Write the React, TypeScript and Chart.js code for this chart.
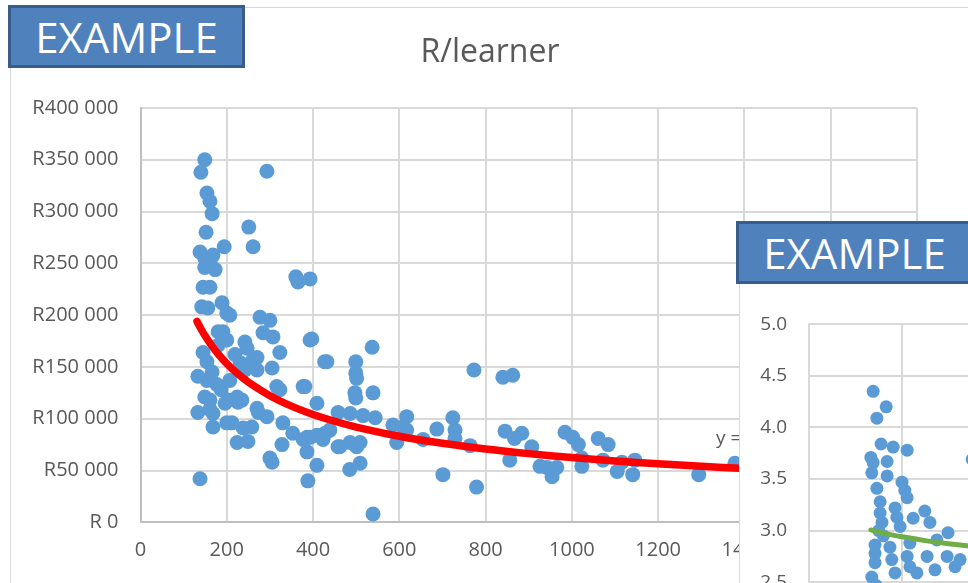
import React, { useEffect, useRef } from "react";
import { Chart, registerables } from "chart.js";

Chart.register(...registerables);

// ---------- Main chart data (learners vs rand per learner) ----------
const LEARNERS = [
  149, 140, 293, 154, 161, 166, 152, 251, 261, 194, 138, 149, 161, 168, 173, 149, 145, 161, 360, 393,
  365, 142, 156, 189, 200, 207, 277, 300, 284, 307, 397, 242, 247, 200, 191, 323, 270, 145, 154, 427,
  305, 231, 242, 133, 154, 177, 166, 207, 316, 323, 377, 161, 149, 203, 224, 235, 196, 270, 293, 133,
  168, 409, 212, 238, 258, 168, 330, 353, 386, 409, 428, 224, 249, 328, 386, 300, 305, 409, 138, 388,
  485, 509, 539, 462, 501, 594, 701, 537, 432, 499, 499, 501, 539, 497, 499, 393, 381, 458, 486, 516,
  544, 439, 423, 458, 486, 509, 377, 393, 617, 585, 608, 617, 655, 773, 840, 863, 724, 729, 729, 687,
  764, 845, 867, 884, 907, 856, 779, 984, 1002, 1015, 942, 954, 965, 926, 1023, 1023, 1061, 1084, 1072, 1105,
  1116, 1141, 1146, 1294, 1378, 180, 261, 270, 273, 161, 187, 219, 180, 200, 226,
];
const R_PER_LEARNER = [
  350000, 338000, 339000, 318000, 310000, 298000, 280000, 285000, 266000, 266000, 261000, 255000, 251000, 258000, 244000, 246000, 227000, 227000, 237000, 235000,
  232000, 208000, 207000, 212000, 202000, 200000, 198000, 195000, 183000, 179000, 177000, 174000, 168000, 176000, 184000, 164000, 159000, 164000, 155000, 155000,
  149000, 154000, 147000, 141000, 137000, 133000, 145000, 137000, 131000, 128000, 131000, 118000, 121000, 118000, 121000, 118000, 115000, 110000, 102000, 106000,
  105000, 115000, 96000, 91000, 92000, 92000, 96000, 86000, 82000, 84000, 86000, 77000, 78000, 75000, 68000, 62000, 58000, 55000, 42000, 40000,
  51000, 57000, 8000, 73000, 73000, 77000, 46000, 169000, 155000, 155000, 144000, 139000, 125000, 125000, 120000, 176000, 131000, 106000, 105000, 103000,
  101000, 89000, 80000, 73000, 77000, 77000, 80000, 82000, 102000, 94000, 92000, 89000, 80000, 147000, 140000, 142000, 101000, 89000, 81000, 90000,
  74000, 88000, 81000, 86000, 73000, 60000, 34000, 87000, 82000, 75000, 53000, 44000, 53000, 54000, 54000, 62000, 81000, 75000, 60000, 49000,
  58000, 46000, 60000, 46000, 57000, 184000, 157000, 147000, 106000, 109000, 128000, 162000, 171000, 96000, 116000,
];
// power trendline y = A * x^B
const TREND_A = 2931000;
const TREND_B = -0.557;
const TREND_X = [131, 140, 150, 165, 180, 200, 225, 250, 300, 350, 400, 450, 500, 600, 700, 800, 900, 1000, 1100, 1200, 1300, 1400, 1500];

const MAIN_TITLE = "R/learner";
const MAIN_X_MIN = 0;
const MAIN_X_MAX = 1800;
const MAIN_X_STEP = 200;
const MAIN_Y_MIN = 0;
const MAIN_Y_MAX = 400000;
const MAIN_Y_STEP = 50000;
const TREND_LABEL = "y = 3E+06x-0.557";

// ---------- Inset chart data ----------
const LEARNERS_2 = [
  138, 166, 146, 155, 181, 211, 133, 138, 168, 135, 168, 146, 200, 206, 211, 153, 153, 157, 185, 189,
  196, 224, 249, 260, 299, 142, 142, 142, 135, 174, 178, 185, 217, 211, 217, 232, 254, 271, 275, 297,
  314, 325, 351, 144, 174, 150, 160,
];
const VALUES_2 = [
  4.35, 4.2, 4.09, 3.84, 3.81, 3.78, 3.71, 3.66, 3.67, 3.56, 3.53, 3.41, 3.47, 3.39, 3.32, 3.28, 3.17, 3.08, 3.22, 3.13,
  3.04, 3.12, 3.19, 3.08, 2.98, 2.86, 2.78, 2.69, 2.55, 2.84, 2.72, 2.59, 2.88, 2.75, 2.65, 2.59, 2.75, 2.62, 2.91, 2.75,
  2.65, 2.72, 3.69, 2.47, 2.43, 3.0, 2.95,
];
// log trendline y = C + D * ln(x)
const GREEN_C = 3.809;
const GREEN_D = -0.164;
const GREEN_X = [133, 150, 175, 200, 250, 300, 350, 400, 500, 600];
const INSET_Y_MIN = 1.0;
const INSET_Y_MAX = 5.0;
const INSET_Y_STEP = 0.5;
const INSET_X_MIN = 0;
const INSET_X_MAX = 600;
const INSET_X_STEP = 200;

const BADGE_TEXT = "EXAMPLE";

const TEXT_COLOR = "#595959";
const GRID_COLOR = "#d9d9d9";
const AXIS_COLOR = "#bfbfbf";
const POINT_COLOR = "#5B9BD5";
const FONT = "'Open Sans', sans-serif";

function formatRand(v: number): string {
  if (v === 0) return "R 0";
  return "R" + String(Math.round(v)).replace(/\B(?=(\d{3})+(?!\d))/g, " ");
}

// Centre the title over the whole chart object (as in the spreadsheet chart), not the padded area.
const fullWidthTitle = {
  id: "fullWidthTitle",
  afterLayout(chart: any) {
    const t = chart.titleBlock;
    if (t) {
      t.left = 0;
      t.right = chart.width;
      t.width = chart.width;
    }
  },
};

function MainChart() {
  const ref = useRef<HTMLCanvasElement | null>(null);
  useEffect(() => {
    if (!ref.current) return;
    const points = LEARNERS.map((x, i) => ({ x, y: R_PER_LEARNER[i] }));
    const trend = TREND_X.map((x) => ({ x, y: TREND_A * Math.pow(x, TREND_B) }));
    const chart = new Chart(ref.current, {
      type: "scatter",
      data: {
        datasets: [
          {
            data: trend,
            showLine: true,
            borderColor: "#FF0000",
            backgroundColor: "#FF0000",
            borderWidth: 7.5,
            pointRadius: 0,
            tension: 0.3,
            borderCapStyle: "round",
          } as any,
          {
            data: points,
            backgroundColor: POINT_COLOR,
            borderWidth: 0,
            pointRadius: 7.5,
            pointHoverRadius: 7.5,
          },
        ],
      },
      plugins: [fullWidthTitle],
      options: {
        animation: false,
        responsive: false,
        events: [],
        layout: { padding: { left: 0, right: 52, top: 0, bottom: 0 } },
        plugins: {
          legend: { display: false },
          tooltip: { enabled: false },
          title: {
            display: true,
            text: MAIN_TITLE,
            color: TEXT_COLOR,
            font: { family: FONT, size: 32, weight: "normal" as any },
            padding: { top: 25.8, bottom: 35.8 },
          },
        },
        scales: {
          x: {
            type: "linear",
            min: MAIN_X_MIN,
            max: MAIN_X_MAX,
            ticks: {
              stepSize: MAIN_X_STEP,
              color: TEXT_COLOR,
              font: { family: FONT, size: 20 },
              padding: 16,
              maxRotation: 0,
              autoSkip: false,
              callback: (v: any) => String(v),
            },
            grid: { color: GRID_COLOR, lineWidth: 2, drawTicks: false },
            border: { color: AXIS_COLOR, width: 2 },
            afterFit: (s: any) => {
              s.height = 85.7;
            },
          },
          y: {
            type: "linear",
            min: MAIN_Y_MIN,
            max: MAIN_Y_MAX,
            ticks: {
              stepSize: MAIN_Y_STEP,
              color: TEXT_COLOR,
              font: { family: FONT, size: 20 },
              padding: 22,
              callback: (v: any) => formatRand(Number(v)),
            },
            grid: { color: GRID_COLOR, lineWidth: 2, drawTicks: false },
            border: { color: AXIS_COLOR, width: 2 },
            afterFit: (s: any) => {
              s.width = 129.5;
            },
          },
        },
      },
    });
    return () => chart.destroy();
  }, []);
  return <canvas ref={ref} width={958} height={600} style={{ width: 958, height: 600, display: "block" }} />;
}

function InsetChart() {
  const ref = useRef<HTMLCanvasElement | null>(null);
  useEffect(() => {
    if (!ref.current) return;
    const points = LEARNERS_2.map((x, i) => ({ x, y: VALUES_2[i] }));
    const trend = GREEN_X.map((x) => ({ x, y: GREEN_C + GREEN_D * Math.log(x) }));
    const chart = new Chart(ref.current, {
      type: "scatter",
      data: {
        datasets: [
          {
            data: trend,
            showLine: true,
            borderColor: "#70AD47",
            backgroundColor: "#70AD47",
            borderWidth: 5,
            pointRadius: 0,
            tension: 0.3,
            borderCapStyle: "round",
          } as any,
          {
            data: points,
            backgroundColor: POINT_COLOR,
            borderWidth: 0,
            pointRadius: 6.5,
            pointHoverRadius: 6.5,
          },
        ],
      },
      options: {
        animation: false,
        responsive: false,
        events: [],
        layout: { padding: { left: 0, right: 52, top: 102.3, bottom: 0 } },
        plugins: {
          legend: { display: false },
          tooltip: { enabled: false },
        },
        scales: {
          x: {
            type: "linear",
            min: INSET_X_MIN,
            max: INSET_X_MAX,
            ticks: {
              stepSize: INSET_X_STEP,
              color: TEXT_COLOR,
              font: { family: FONT, size: 19 },
              padding: 10,
              maxRotation: 0,
              callback: (v: any) => String(v),
            },
            grid: { color: GRID_COLOR, lineWidth: 2, drawTicks: false },
            border: { color: AXIS_COLOR, width: 2 },
            afterFit: (s: any) => {
              s.height = 45;
            },
          },
          y: {
            type: "linear",
            min: INSET_Y_MIN,
            max: INSET_Y_MAX,
            ticks: {
              stepSize: INSET_Y_STEP,
              color: TEXT_COLOR,
              font: { family: FONT, size: 19 },
              padding: 22,
              callback: (v: any) => Number(v).toFixed(1),
            },
            grid: { color: GRID_COLOR, lineWidth: 2, drawTicks: false },
            border: { color: GRID_COLOR, width: 2 },
            afterFit: (s: any) => {
              s.width = 69;
            },
          },
        },
      },
    });
    return () => chart.destroy();
  }, []);
  return <canvas ref={ref} width={400} height={560} style={{ width: 400, height: 560, display: "block" }} />;
}

function Badge({ left, top }: { left: number; top: number }) {
  return (
    <div
      style={{
        position: "absolute",
        left,
        top,
        width: 237,
        height: 63,
        boxSizing: "border-box",
        background: "#4F81BD",
        border: "3px solid #385D8A",
        color: "#ffffff",
        fontFamily: FONT,
        fontSize: 42,
        display: "flex",
        alignItems: "center",
        justifyContent: "center",
        lineHeight: 1,
        zIndex: 10,
      }}
    >
      {BADGE_TEXT}
    </div>
  );
}

export default function App() {
  return (
    <div
      style={{
        position: "fixed",
        left: 0,
        top: 0,
        width: 968,
        height: 583,
        overflow: "hidden",
        background: "#ffffff",
      }}
    >
      <div
        style={{
          position: "absolute",
          left: 10,
          top: 7,
          width: 958,
          height: 700,
          border: `1px solid ${GRID_COLOR}`,
          background: "#ffffff",
          zIndex: 1,
        }}
      >
        <MainChart />
      </div>
      <div
        style={{
          position: "absolute",
          left: 716,
          top: 424,
          fontFamily: FONT,
          fontSize: 19,
          color: TEXT_COLOR,
          whiteSpace: "nowrap",
          zIndex: 2,
        }}
      >
        {TREND_LABEL}
      </div>
      <div
        style={{
          position: "absolute",
          left: 739,
          top: 221,
          width: 400,
          height: 600,
          border: `1px solid ${GRID_COLOR}`,
          background: "#ffffff",
          zIndex: 5,
        }}
      >
        <InsetChart />
      </div>
      <Badge left={8} top={5} />
      <Badge left={736} top={221} />
    </div>
  );
}
